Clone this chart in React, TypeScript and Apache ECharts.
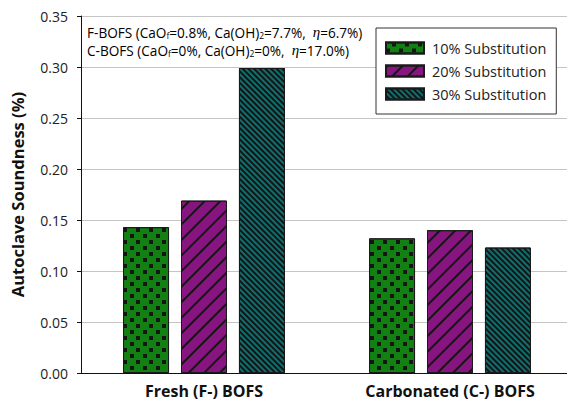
import React, { useEffect, useRef } from 'react';
import * as echarts from 'echarts';

const categories = ['Fresh (F-) BOFS', 'Carbonated (C-) BOFS'];
const seriesNames = ['10% Substitution', '20% Substitution', '30% Substitution'];
const sub10 = [0.143, 0.132];
const sub20 = [0.169, 0.14];
const sub30 = [0.299, 0.123];
const yMin = 0;
const yMax = 0.35;
const yStep = 0.05;
const noteLine1 = '{a|F-BOFS (CaO}{s|f}{a|=0.8%, Ca(OH)}{s|2}{a|=7.7%,  }{e|η}{a|=6.7%)}';
const noteLine2 = '{a|C-BOFS (CaO}{s|f}{a|=0%, Ca(OH)}{s|2}{a|=0%,  }{e|η}{a|=17.0%)}';

const FONT = 'Open Sans';

export default function App() {
  const ref = useRef<HTMLDivElement>(null);
  useEffect(() => {
    if (!ref.current) return;
    const chart = echarts.init(ref.current, undefined, { renderer: 'svg' });
    const rich = {
      a: { fontFamily: FONT, fontSize: 13.6, color: '#222' },
      s: { fontFamily: FONT, fontSize: 8.5, color: '#222', padding: [7, 0, 0, 0] },
      e: { fontFamily: 'Liberation Serif', fontStyle: 'italic', fontSize: 15, color: '#222' },
    };
    const border = '#1a1a1a';
    chart.setOption({
      animation: false,
      textStyle: { fontFamily: FONT },
      grid: { left: 81, top: 16, bottom: 28, right: 7, containLabel: false },
      legend: {
        orient: 'vertical',
        left: 376,
        top: 28,
        padding: [12.5, 10, 12.5, 9],
        itemGap: 8,
        itemWidth: 38,
        itemHeight: 11,
        borderColor: '#333',
        borderWidth: 1,
        backgroundColor: '#fff',
        icon: 'rect',
        textStyle: { fontFamily: FONT, fontSize: 14.5, color: '#222', padding: [0, 0, 0, 3] },
        data: seriesNames,
      },
      xAxis: {
        type: 'category',
        data: categories,
        axisLine: { lineStyle: { color: '#111', width: 1 } },
        axisTick: { alignWithLabel: true, length: 5, lineStyle: { color: '#111' } },
        axisLabel: { margin: 10, fontFamily: FONT, fontSize: 16, fontWeight: 'bold', color: '#111' },
        splitLine: { show: false },
      },
      yAxis: {
        type: 'value',
        min: yMin,
        max: yMax,
        interval: yStep,
        name: 'Autoclave Soundness (%)',
        nameLocation: 'middle',
        nameGap: 55,
        nameTextStyle: { fontFamily: FONT, fontSize: 16.5, fontWeight: 'bold', color: '#111' },
        axisLine: { show: true, lineStyle: { color: '#111', width: 1 } },
        axisTick: { show: true, length: 4, lineStyle: { color: '#111' } },
        axisLabel: {
          margin: 13,
          fontFamily: FONT,
          fontSize: 14,
          color: '#222',
          formatter: (v: number) => v.toFixed(2),
        },
        splitLine: { show: true, lineStyle: { color: '#c4c4c4', width: 1 } },
      },
      graphic: [
        {
          type: 'text',
          x: 87,
          y: 24,
          z: 100,
          style: { text: noteLine1, rich, verticalAlign: 'top' },
        },
        {
          type: 'text',
          x: 87,
          y: 42,
          z: 100,
          style: { text: noteLine2, rich, verticalAlign: 'top' },
        },
      ],
      series: [
        {
          type: 'bar',
          name: seriesNames[0],
          data: sub10,
          barWidth: 46,
          barGap: '26%',
          itemStyle: {
            color: '#138013',
            borderColor: border,
            borderWidth: 1,
            decal: {
              symbol: 'rect',
              symbolSize: 1,
              color: '#151515',
              dashArrayX: [[3.5, 8.5], [0, 6, 3.5, 2.5]],
              dashArrayY: [3.5, 1.5],
              rotation: 0,
            },
          },
        },
        {
          type: 'bar',
          name: seriesNames[1],
          data: sub20,
          barWidth: 46,
          barGap: '26%',
          itemStyle: {
            color: '#87157f',
            borderColor: border,
            borderWidth: 1,
            decal: {
              symbol: 'rect',
              symbolSize: 1,
              color: '#151515',
              dashArrayX: [1, 0],
              dashArrayY: [1.4, 9],
              rotation: -Math.PI / 4,
            },
          },
        },
        {
          type: 'bar',
          name: seriesNames[2],
          data: sub30,
          barWidth: 46,
          barGap: '26%',
          itemStyle: {
            color: '#0f6e6e',
            borderColor: border,
            borderWidth: 1,
            decal: {
              symbol: 'rect',
              symbolSize: 1,
              color: '#151515',
              dashArrayX: [1, 0],
              dashArrayY: [1.4, 1.5],
              rotation: Math.PI / 4,
            },
          },
        },
      ],
    });
    return () => chart.dispose();
  }, []);
  return (
    <div
      style={{
        position: 'absolute',
        left: 0,
        top: 0,
        width: 567,
        height: 401,
        overflow: 'hidden',
        background: '#fff',
      }}
    >
      <div ref={ref} style={{ width: 580, height: 401 }} />
    </div>
  );
}
